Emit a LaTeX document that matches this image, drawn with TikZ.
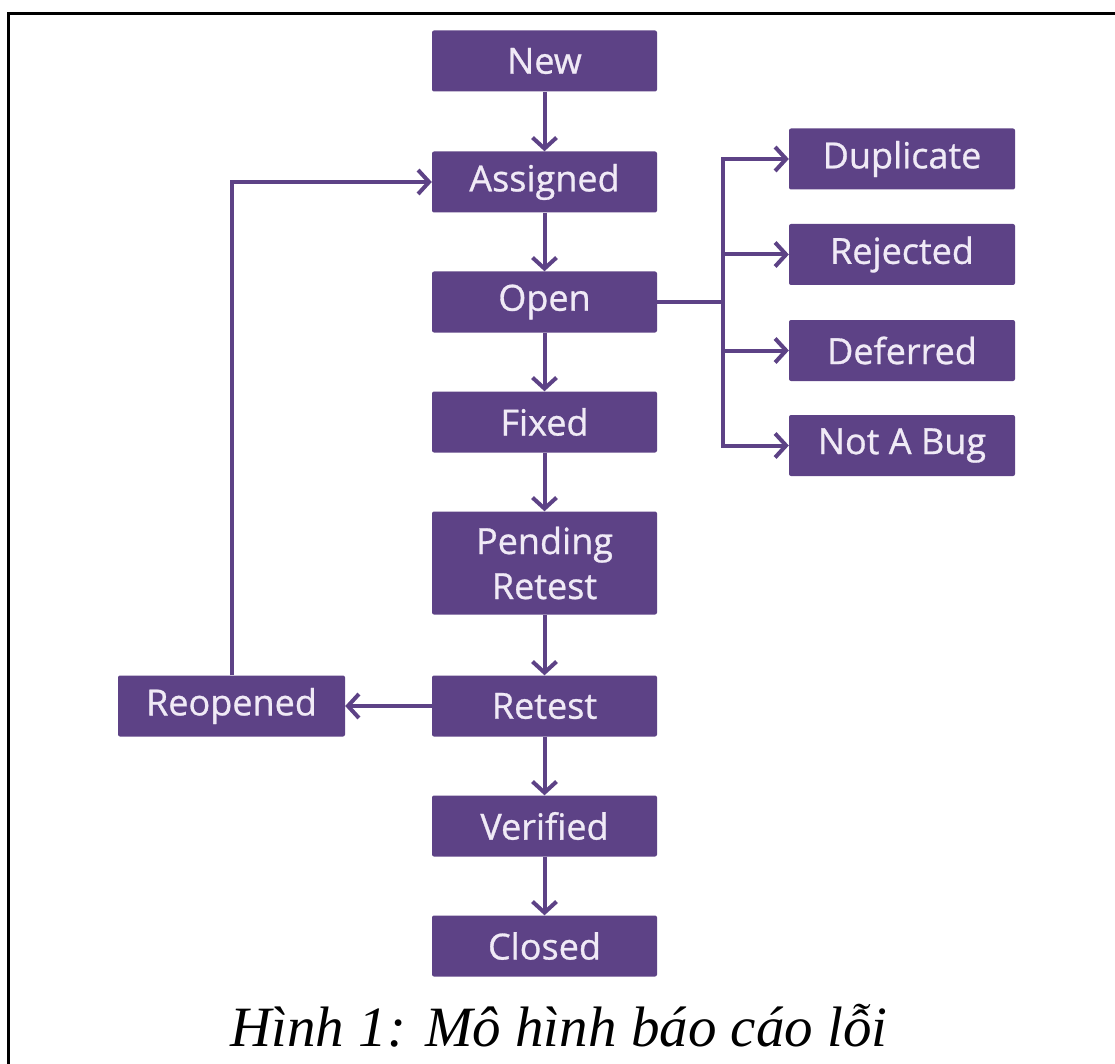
\documentclass[tikz,border=0pt]{standalone}
\usepackage{fontspec}
\setmainfont{Liberation Serif}
\newfontfamily\boxfont[FakeBold=0.8]{Open Sans}
\usetikzlibrary{arrows.meta}
\definecolor{bugpurple}{RGB}{93,66,134}
\definecolor{boxtext}{RGB}{240,234,246}
\begin{document}
\begin{tikzpicture}[x=1pt,y=-1pt,
  state/.style={fill=bugpurple, text=boxtext, font=\boxfont\fontsize{36pt}{45pt}\selectfont,
    minimum width=225pt, minimum height=61pt, inner sep=0pt, rounded corners=2pt, align=center},
  conn/.style={draw=bugpurple, line width=4pt},
  flow/.style={conn, -{Straight Barb[length=11pt,width=24pt,line width=4pt]}}]
\useasboundingbox (0,0) rectangle (1115,1064);
\draw[line width=3pt] (1115,14) -- (8,14) -- (8,1064);

\node[state] (new) at (544.5,61) {New};
\node[state] (assigned) at (544.5,182) {Assigned};
\node[state] (open) at (544.5,302) {Open};
\node[state] (fixed) at (544.5,422) {Fixed};
\node[state, minimum height=103pt] (pending) at (544.5,563) {Pending\\Retest};
\node[state] (retest) at (544.5,706) {Retest};
\node[state] (verified) at (544.5,826) {Verified};
\node[state] (closed) at (544.5,946) {Closed};
\node[state, minimum width=227pt] (reopened) at (231.5,706) {Reopened};
\node[state, minimum width=226pt] (dup) at (902,159) {Duplicate};
\node[state, minimum width=226pt] (rej) at (902,254.5) {Rejected};
\node[state, minimum width=226pt] (def) at (902,350.5) {Deferred};
\node[state, minimum width=226pt] (nab) at (902,445.5) {Not A Bug};

\draw[flow] (new) -- (assigned);
\draw[flow] (assigned) -- (open);
\draw[flow] (open) -- (fixed);
\draw[flow] (fixed) -- (pending);
\draw[flow] (pending) -- (retest);
\draw[flow] (retest) -- (verified);
\draw[flow] (verified) -- (closed);
\draw[flow] (retest) -- (reopened);
\draw[flow] (reopened.north) |- (assigned.west);

\coordinate (br) at (723,302);
\draw[conn] (open.east) -- (br);
\draw[flow] (br) |- (dup.west);
\draw[flow] (br) |- (nab.west);
\draw[flow] (br |- rej.west) -- (rej.west);
\draw[flow] (br |- def.west) -- (def.west);

\node[font=\itshape\fontsize{57pt}{60pt}\selectfont, anchor=base] (cap) at (559,1046) {Hình 1: Mô hình báo cáo lỗi};
\end{tikzpicture}
\end{document}
